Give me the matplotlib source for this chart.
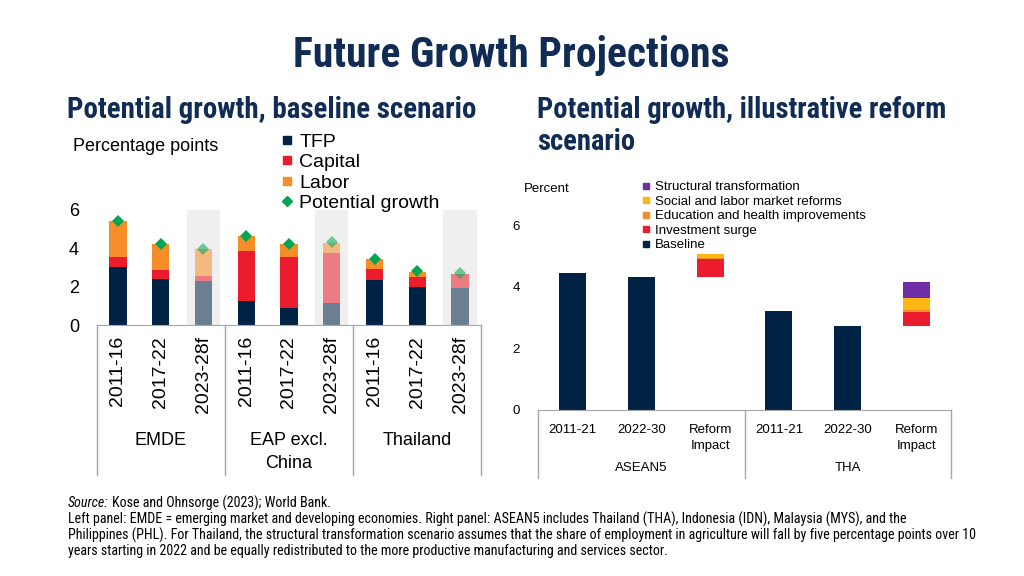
import matplotlib
matplotlib.use("Agg")
import matplotlib.pyplot as plt
from matplotlib.lines import Line2D
from matplotlib import font_manager
import numpy as np

# ---------------- data ----------------
left_groups = ["EMDE", "EAP excl.\nChina", "Thailand"]
left_periods = ["2011-16", "2017-22", "2023-28f"]
tfp = [3.0, 2.4, 2.27, 1.27, 0.9, 1.15, 2.36, 2.0, 1.93]
capital = [0.55, 0.45, 0.28, 2.58, 2.64, 2.6, 0.56, 0.52, 0.73]
labor = [1.85, 1.35, 1.4, 0.77, 0.66, 0.52, 0.52, 0.26, 0.0]
potential = [5.4, 4.23, 3.97, 4.65, 4.2, 4.3, 3.44, 2.8, 2.7]
forecast = [False, False, True, False, False, True, False, False, True]

right_groups = ["ASEAN5", "THA"]
right_periods = ["2011-21", "2022-30", "Reform\nImpact"]
baseline_asean5 = [4.46, 4.33]
baseline_tha = [3.21, 2.72]
# reform impact components: investment, education, social, structural
reform_asean5 = [0.57, 0.04, 0.13, 0.0]
reform_tha = [0.47, 0.07, 0.39, 0.49]
reform_labels = ["Investment surge", "Education and health improvements",
                 "Social and labor market reforms", "Structural transformation"]

# ---------------- style ----------------
NAVY = "#002345"
RED = "#EB1C2D"
ORANGE = "#F78D28"
GREEN = "#00A651"
YELLOW = "#FDB714"
PURPLE = "#6F2DA8"
TITLE = "#102C54"
SHADE = "#EFEFEF"
SEP = "#A6A6A6"
reform_colors = [RED, ORANGE, YELLOW, PURPLE]

BODY = ["Liberation Sans", "DejaVu Sans"]
plt.rcParams["font.family"] = BODY

names = {f.name for f in font_manager.fontManager.ttflist}
NARROW_KW = None
for cand in ["Liberation Sans Narrow", "Arial Narrow", "Roboto Condensed",
             "Archivo Narrow", "PT Sans Narrow", "Arimo Narrow"]:
    if cand in names:
        NARROW_KW = dict(family=[cand, "DejaVu Sans"])
        break
if NARROW_KW is None:
    if any(f.name == "Open Sans" and str(f.stretch) == "condensed"
           for f in font_manager.fontManager.ttflist):
        NARROW_KW = dict(family=["Open Sans", "DejaVu Sans"], fontstretch="condensed")
    else:
        NARROW_KW = dict(family=BODY)

W, H = 1024, 576
fig = plt.figure(figsize=(W / 100, H / 100), dpi=100)
fig.patch.set_facecolor("white")
renderer = fig.canvas.get_renderer()

def fx(px):
    return px / W

def fy(py):
    return 1 - py / H

def fit(t, target_px, max_fs=None):
    """scale the font size of text t so that its width matches target_px"""
    for _ in range(3):
        w = t.get_window_extent(renderer).width
        fs = t.get_fontsize() * target_px / w
        if max_fs is not None:
            fs = min(fs, max_fs)
        t.set_fontsize(fs)
    return t

# titles
t = fig.text(fx(511.5), fy(56), "Future Growth Projections", ha="center", va="center",
             fontsize=26, fontweight="bold", color=TITLE, **NARROW_KW)
fit(t, 437)
t = fig.text(fx(67), fy(110), "Potential growth, baseline scenario", ha="left",
             va="center", fontsize=20, fontweight="bold", color=TITLE, **NARROW_KW)
fit(t, 409)
sub_fs = t.get_fontsize()
t = fig.text(fx(537), fy(110), "Potential growth, illustrative reform", ha="left",
             va="center", fontsize=sub_fs, fontweight="bold", color=TITLE, **NARROW_KW)
fit(t, 409)
fig.text(fx(537), fy(142), "scenario", ha="left", va="center", fontsize=t.get_fontsize(),
         fontweight="bold", color=TITLE, **NARROW_KW)

# ---------------- left panel ----------------
lx0, lx1 = 97, 481
l_zero = 325
l_ppu = 19.2
l_ymax = 6.6
axL = fig.add_axes([fx(lx0), fy(l_zero), fx(lx1 - lx0), l_ymax * l_ppu / H])
n = len(tfp)
x = np.arange(n)
axL.set_xlim(-0.49, n - 1 + 0.49)
axL.set_ylim(0, l_ymax)

for i in range(n):
    if forecast[i]:
        axL.bar(x[i], 6.0, width=0.78, color=SHADE, zorder=0)

for i in range(n):
    a = 0.55 if forecast[i] else 1.0
    axL.bar(x[i], tfp[i], width=0.4, color=NAVY, alpha=a, zorder=2)
    axL.bar(x[i], capital[i], width=0.4, bottom=tfp[i], color=RED, alpha=a, zorder=2)
    axL.bar(x[i], labor[i], width=0.4, bottom=tfp[i] + capital[i], color=ORANGE,
            alpha=a, zorder=2)
    axL.plot(x[i], potential[i], marker="D", markersize=6, color=GREEN, alpha=a,
             linestyle="none", zorder=3, markeredgewidth=0)

for s in ["top", "right", "left"]:
    axL.spines[s].set_visible(False)
axL.spines["bottom"].set_color(SEP)
axL.set_yticks([0, 2, 4, 6])
axL.set_yticklabels(["0", "2", "4", "6"], fontsize=13)
axL.tick_params(axis="y", length=0, pad=13)
axL.set_xticks(x)
axL.set_xticklabels(left_periods * 3, rotation=90, fontsize=14)
axL.tick_params(axis="x", length=0, pad=8)
axL.patch.set_alpha(0)

for b in [-0.49, 2.5, 5.5, n - 1 + 0.49]:
    axL.plot([b, b], [0, -150 / l_ppu], color=SEP, lw=1, clip_on=False, zorder=1)
for g, name in enumerate(left_groups):
    axL.text(g * 3 + 1, -107 / l_ppu, name, ha="center", va="top", fontsize=13,
             linespacing=1.45)

fig.text(fx(73), fy(147), "Percentage points", ha="left", va="center", fontsize=13)

hL = [Line2D([], [], marker="s", color=NAVY, linestyle="none", markersize=6),
      Line2D([], [], marker="s", color=RED, linestyle="none", markersize=6),
      Line2D([], [], marker="s", color=ORANGE, linestyle="none", markersize=6),
      Line2D([], [], marker="D", color=GREEN, linestyle="none", markersize=5)]
fig.legend(hL, ["TFP", "Capital", "Labor", "Potential growth"], loc="upper left",
           bbox_to_anchor=(fx(281), fy(133)), frameon=False, fontsize=14,
           handlelength=0.6, handletextpad=0.35, labelspacing=0.15, borderpad=0,
           borderaxespad=0)

# ---------------- right panel ----------------
rx0, rx1 = 538, 951
r_zero = 410
r_ppu = 30.8
r_ymax = 7.0
axR = fig.add_axes([fx(rx0), fy(r_zero), fx(rx1 - rx0), r_ymax * r_ppu / H])
axR.set_xlim(-0.5, 5.5)
axR.set_ylim(0, r_ymax)
bw = 0.39
for g, (base, reform) in enumerate([(baseline_asean5, reform_asean5),
                                    (baseline_tha, reform_tha)]):
    off = g * 3
    axR.bar([off, off + 1], base, width=bw, color=NAVY, zorder=2)
    bottom = base[-1]
    for k, v in enumerate(reform):
        axR.bar(off + 2, v, width=bw, bottom=bottom, color=reform_colors[k], zorder=2)
        bottom += v

for s in ["top", "right", "left"]:
    axR.spines[s].set_visible(False)
axR.spines["bottom"].set_color(SEP)
axR.set_yticks([0, 2, 4, 6])
axR.set_yticklabels(["0", "2", "4", "6"], fontsize=9.5)
axR.tick_params(axis="y", length=0, pad=13)
axR.set_xticks(range(6))
axR.set_xticklabels(right_periods * 2, fontsize=9.5, linespacing=1.45)
axR.tick_params(axis="x", length=0, pad=10)
axR.patch.set_alpha(0)
for b in [-0.5, 2.5, 5.5]:
    axR.plot([b, b], [0, -68 / r_ppu], color=SEP, lw=1, clip_on=False, zorder=1)
for g, name in enumerate(right_groups):
    axR.text(g * 3 + 1, -58 / r_ppu, name, ha="center", va="center", fontsize=9.5)

fig.text(fx(524), fy(189), "Percent", ha="left", va="center", fontsize=9.5)

hR = [Line2D([], [], marker="s", color=c, linestyle="none", markersize=4.5)
      for c in [PURPLE, YELLOW, ORANGE, RED, NAVY]]
fig.legend(hR, reform_labels[::-1] + ["Baseline"], loc="upper left",
           bbox_to_anchor=(fx(642), fy(181)), frameon=False, fontsize=9.5,
           handlelength=0.6, handletextpad=0.35, labelspacing=0.17, borderpad=0,
           borderaxespad=0)

# ---------------- footnote ----------------
foot = ["Left panel: EMDE = emerging market and developing economies. Right panel: ASEAN5 includes Thailand (THA), Indonesia (IDN), Malaysia (MYS), and the",
        "Philippines (PHL). For Thailand, the structural transformation scenario assumes that the share of employment in agriculture will fall by five percentage points over 10",
        "years starting in 2022 and be equally redistributed to the more productive manufacturing and services sector."]
t1 = fig.text(fx(68), fy(519), foot[0], ha="left", va="center", fontsize=10, **NARROW_KW)
fit(t1, 844, max_fs=11)
t2 = fig.text(fx(68), fy(535), foot[1], ha="left", va="center", fontsize=10, **NARROW_KW)
fit(t2, 892, max_fs=11)
fs = (t1.get_fontsize() + t2.get_fontsize()) / 2
t1.set_fontsize(fs)
t2.set_fontsize(fs)
fig.text(fx(68), fy(551), foot[2], ha="left", va="center", fontsize=fs, **NARROW_KW)
ts = fig.text(fx(68), fy(503), "Source:", ha="left", va="center", fontsize=fs,
              style="italic", **NARROW_KW)
ext = ts.get_window_extent(renderer)
fig.text(fx(ext.x1 + fs * 0.3), fy(503), "Kose and Ohnsorge (2023); World Bank.",
         ha="left", va="center", fontsize=fs, **NARROW_KW)

fig.savefig("out.png", dpi=100, facecolor="white")
